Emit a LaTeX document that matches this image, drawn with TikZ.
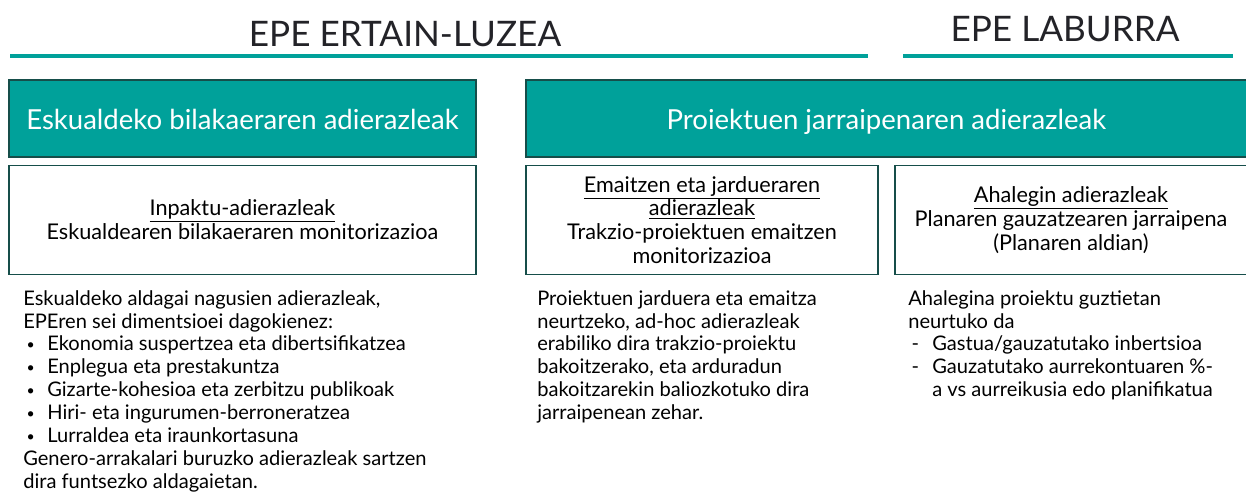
\documentclass[tikz,border=0pt]{standalone}
\usepackage{fontspec}
\setmainfont{Lato}
\definecolor{tealfill}{RGB}{0,161,154}
\definecolor{tealdark}{RGB}{22,78,74}
\definecolor{inkgray}{RGB}{35,35,40}
\newcommand{\dotitem}{\makebox[0.6cm][l]{\,\raisebox{0.15ex}{\fontsize{10}{10}\selectfont\textbullet}}}
\newcommand{\dashitem}{\makebox[0.6cm][l]{\,-}}
\begin{document}
\begin{tikzpicture}[
title/.style={font=\fontsize{25}{29}\selectfont, text=inkgray, inner sep=0pt},
rule/.style={draw=tealfill, line width=2.2pt},
headbox/.style={rectangle, draw=tealdark, fill=tealfill, line width=1.4pt, text=white, font=\fontsize{19.6}{23}\selectfont, minimum height=1.925cm, text height=16pt, text depth=0pt},
kindbox/.style={rectangle, draw=tealdark, line width=1.2pt, align=center, font=\fontsize{15.4}{17}\selectfont, minimum height=2.725cm, inner sep=2pt},
bodytext/.style={anchor=north west, align=left, inner sep=0pt, font=\fontsize{14.3}{16.3}\selectfont, text=black},
]
\useasboundingbox (0,0) rectangle (31.15,-12.3);
% time horizons
\node[title] (longterm) at (10.125,-0.85) {EPE ERTAIN-LUZEA};
\node[title] (shortterm) at (26.625,-0.72) {EPE LABURRA};
\draw[rule] (0.25,-1.4) -- (21.7,-1.4);
\draw[rule] (22.575,-1.4) -- (30.825,-1.4);
% teal headers
\node[headbox, minimum width=11.675cm] (evol) at (6.0625,-2.9625) {Eskualdeko bilakaeraren adierazleak};
\node[headbox, minimum width=18.025cm] (proj) at (22.1625,-2.9625) {Proiektuen jarraipenaren adierazleak};
% indicator kinds
\node[kindbox, minimum width=11.675cm] (impact) at (6.0625,-5.5)
  {\underline{Inpaktu-adierazleak}\\Eskualdearen bilakaeraren monitorizazioa};
\node[kindbox, minimum width=8.8cm] (result) at (17.55,-5.5)
  {\underline{Emaitzen eta jardueraren}\\\underline{adierazleak}\\Trakzio-proiektuen emaitzen\\monitorizazioa};
\node[kindbox, minimum width=8.8cm] (effort) at (26.775,-5.5)
  {\underline{Ahalegin adierazleak}\\Planaren gauzatzearen jarraipena\\(Planaren aldian)};
% descriptions
\node[bodytext] (impactnote) at (0.575,-7.25)
  {Eskualdeko aldagai nagusien adierazleak,\\
   EPEren sei dimentsioei dagokienez:\\
   \dotitem Ekonomia suspertzea eta dibertsifikatzea\\
   \dotitem Enplegua eta prestakuntza\\
   \dotitem Gizarte-kohesioa eta zerbitzu publikoak\\
   \dotitem Hiri- eta ingurumen-berroneratzea\\
   \dotitem Lurraldea eta iraunkortasuna\\
   Genero-arrakalari buruzko adierazleak sartzen\\
   dira funtsezko aldagaietan.};
\node[bodytext] (resultnote) at (13.425,-7.25)
  {Proiektuen jarduera eta emaitza\\
   neurtzeko, ad-hoc adierazleak\\
   erabiliko dira trakzio-proiektu\\
   bakoitzerako, eta arduradun\\
   bakoitzarekin baliozkotuko dira\\
   jarraipenean zehar.};
\node[bodytext] (effortnote) at (22.7,-7.25)
  {Ahalegina proiektu guztietan\\
   neurtuko da\\
   \dashitem Gastua/gauzatutako inbertsioa\\
   \dashitem Gauzatutako aurrekontuaren \%-\\
   \hspace*{0.6cm}a vs aurreikusia edo planifikatua};
\end{tikzpicture}
\end{document}
